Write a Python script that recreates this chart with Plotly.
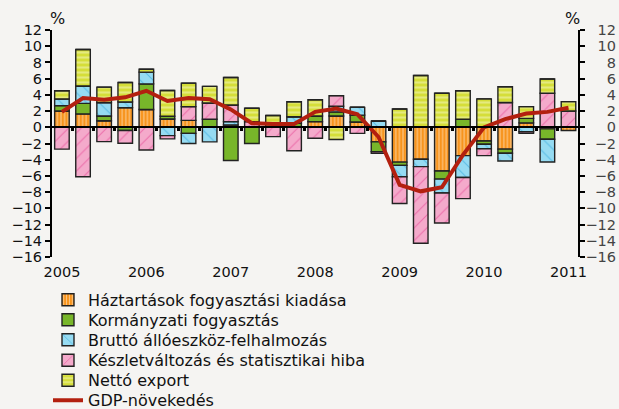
import numpy as np
import plotly.graph_objects as go

quarters = [f"{y} Q{q}" for y in range(2005, 2011) for q in range(1, 5)] + ["2011 Q1"]
year_ticks = ["2005", "2006", "2007", "2008", "2009", "2010", "2011"]

# positive contributions
hh_pos  = [2.0, 1.65, 0.8, 2.43, 2.2, 1.03, 0.85, 0, 0.3, 0, 0, 0, 0.7, 1.4, 0.65, 0, 0, 0, 0, 0, 0, 0, 0.55, 0, 0]
gov_pos = [0.67, 1.3, 0.6, 0, 3.15, 0.33, 0, 1.0, 0, 0, 0.5, 0.5, 0.7, 0.5, 0.85, 0, 0, 0, 0, 1.0, 0, 0, 0.55, 0, 0]
inv_pos = [0.83, 2.15, 1.65, 0.7, 1.45, 0, 0, 0, 0.4, 0, 0, 0.8, 0, 0.7, 0.95, 0.75, 0, 0, 0, 0, 0, 0, 0, 0, 0]
stk_pos = [0, 0, 0, 0, 0, 0, 1.7, 2.0, 2.05, 0.7, 0, 0, 0, 1.3, 0, 0, 0, 0, 0, 0, 0, 3.05, 0, 4.2, 2.0]
nx_pos  = [1.0, 4.5, 1.9, 2.4, 0.35, 3.17, 2.9, 2.05, 3.4, 1.65, 0.95, 1.85, 2.0, 0, 0, 0, 2.26, 6.38, 4.2, 3.5, 3.5, 1.95, 1.45, 1.75, 1.17]
# negative contributions
hh_neg  = [0, 0, 0, 0, 0, 0, 0, 0, 0, 0, 0, 0, 0, 0, 0, -1.8, -4.3, -3.95, -5.4, -3.5, -1.7, -2.7, 0, -0.2, -0.4]
gov_neg = [0, 0, 0, -0.4, 0, 0, -0.75, 0, -4.1, -2.0, 0, 0, 0, 0, 0, -1.2, -0.4, 0, -1.0, 0, -0.4, -0.5, 0, -1.28, 0]
inv_neg = [0, 0, 0, 0, 0, -1.03, -1.25, -1.8, 0, 0, 0, 0, 0, 0, 0, 0, -1.4, -0.9, -1.7, -2.7, -0.55, -0.95, -0.55, -2.8, 0]
stk_neg = [-2.7, -6.1, -1.77, -1.57, -2.8, -0.4, 0, 0, 0, 0, -1.15, -2.9, -1.36, 0, -0.75, -0.2, -3.3, -9.45, -3.7, -2.6, -0.85, 0, -0.2, 0, 0]
nx_neg  = [0, 0, 0, 0, 0, 0, 0, 0, 0, 0, 0, 0, 0, -1.5, 0, 0, 0, 0, 0, 0, 0, 0, 0, 0, 0]
gdp     = [1.9, 3.6, 3.4, 3.7, 4.5, 3.25, 3.6, 3.45, 2.2, 0.5, 0.4, 0.4, 1.9, 2.3, 1.6, -1.2, -7.1, -7.9, -7.4, -3.4, 0.0, 1.0, 1.7, 1.9, 2.4]

names = ["Háztartások fogyasztási kiadása", "Kormányzati fogyasztás",
         "Bruttó állóeszköz-felhalmozás", "Készletváltozás és statisztikai hiba",
         "Nettó export"]
gdp_name = "GDP-növekedés"

x = np.arange(len(quarters))
FONT = "DejaVu Sans"
BG = "#f5f4f2"
W, H = 619, 409

styles = [
    dict(color="#f7941d", pattern=dict(shape="|", fgcolor="white", size=3.6, solidity=0.3, fillmode="overlay")),
    dict(color="#78b62a", pattern=dict(shape="")),
    dict(color="#96dbf2", pattern=dict(shape="\\", fgcolor="#1e9ed8", size=9, solidity=0.12, fillmode="overlay")),
    dict(color="#f4aacb", pattern=dict(shape="/", fgcolor="#e2338a", size=9, solidity=0.12, fillmode="overlay")),
    dict(color="#d5de39", pattern=dict(shape="-", fgcolor="#f3f5c4", size=5, solidity=0.42, fillmode="overlay")),
]
legend_ids = ["legend", "legend2", "legend3", "legend4", "legend5", "legend6"]
legend_centers = [297.5, 317.5, 337.5, 358, 378, 398]   # px from top

fig = go.Figure()
series = list(zip(names, [hh_pos, gov_pos, inv_pos, stk_pos, nx_pos], [hh_neg, gov_neg, inv_neg, stk_neg, nx_neg]))
for i, (nm, pos, neg) in enumerate(series):
    st = styles[i]
    mk = dict(color=st["color"], pattern=st["pattern"], line=dict(color="#222222", width=1.4))
    fig.add_trace(go.Bar(x=x, y=pos, name=nm, marker=mk, showlegend=True, legend=legend_ids[i]))
    fig.add_trace(go.Bar(x=x, y=neg, name=nm, marker=mk, showlegend=False))

# GDP line on the overlay axes (x2 = zero-line axis, y2 = right axis)
fig.add_trace(go.Scatter(x=x, y=gdp, name=gdp_name, mode="lines", xaxis="x2", yaxis="y2",
                         legend=legend_ids[5], line=dict(color="#b3200f", width=4)))
# invisible copy so that the right-hand label axis gets drawn
fig.add_trace(go.Scatter(x=x, y=gdp, mode="lines", yaxis="y3", showlegend=False,
                         hoverinfo="skip", line=dict(color="rgba(0,0,0,0)", width=0)))

xr = [-0.47, 24.45]
yr = [-16, 12]
t_m, b_m = 20, 142
pad = 10                                   # px between paper edge and plot area (top & bottom)
paper_h = H - t_m - b_m
a = pad / paper_h
plot_h = paper_h - 2 * pad
ext = pad * (yr[1] - yr[0]) / plot_h
dom_end = 526 / 567
zero_pos = a + (0 - yr[0]) / (yr[1] - yr[0]) * (1 - 2 * a)

legends = {}
for lid, yc in zip(legend_ids, legend_centers):
    legends[lid] = dict(x=48 / W, xref="container", xanchor="left",
                        y=1 - (yc - 14.7) / H, yref="container", yanchor="top",
                        bgcolor="rgba(0,0,0,0)", font=dict(size=16, family=FONT),
                        itemclick=False, itemdoubleclick=False)

fig.update_layout(
    template="none",
    width=W, height=H,
    margin=dict(l=52, r=0, t=t_m, b=b_m, autoexpand=False),
    paper_bgcolor=BG, plot_bgcolor="rgba(0,0,0,0)",
    barmode="relative", bargap=0.31,
    font=dict(family=FONT, size=14.5, color="#111111"),
    showlegend=True,
    xaxis=dict(domain=[0, dom_end], range=xr, showgrid=False, zeroline=False, showline=False,
               tickmode="array", tickvals=list(x[::4]), ticktext=year_ticks, ticks="",
               ticklabelstandoff=4, automargin=False, tickangle=0),
    xaxis2=dict(overlaying="x", anchor="free", position=zero_pos,
                range=xr, showgrid=False, zeroline=False, showline=True, linewidth=2, linecolor="black",
                tickmode="array", tickvals=list(x[:-1] + 0.5), ticks="outside", ticklen=3, tickwidth=3,
                tickcolor="black", showticklabels=False, automargin=False),
    yaxis=dict(domain=[a, 1 - a], range=yr, dtick=2, showgrid=False, zeroline=False, showline=True,
               linewidth=2, linecolor="black", ticks="outside", ticklen=5, tickwidth=2, tickcolor="black",
               tickfont=dict(size=14.5), automargin=False),
    yaxis2=dict(overlaying="y", side="right", anchor="x", range=yr, dtick=2, showgrid=False,
                zeroline=False, showline=True, linewidth=2, linecolor="black", ticks="outside",
                ticklen=5, tickwidth=2, tickcolor="black", showticklabels=False, automargin=False),
    yaxis3=dict(domain=[0, 1], side="right", anchor="free", position=1.0,
                range=[yr[0] - ext, yr[1] + ext], tickmode="array",
                tickvals=list(range(yr[0], yr[1] + 1, 2)),
                showgrid=False, zeroline=False, showline=False, ticks="", ticklen=0,
                ticklabelposition="inside", ticklabelstandoff=0, tickfont=dict(size=14.5),
                automargin=False),
    annotations=[
        dict(text="%", x=5.5 / 526, xref="x domain", xanchor="center", y=1.0, yref="y domain",
             yanchor="bottom", showarrow=False, font=dict(size=16, family=FONT), yshift=0),
        dict(text="%", x=520.5 / 526, xref="x domain", xanchor="center", y=1.0, yref="y domain",
             yanchor="bottom", showarrow=False, font=dict(size=16, family=FONT), yshift=0),
    ],
    **legends,
)

fig.write_html("out.html", config={"displayModeBar": False},
               post_script="document.body.style.margin='0';")
